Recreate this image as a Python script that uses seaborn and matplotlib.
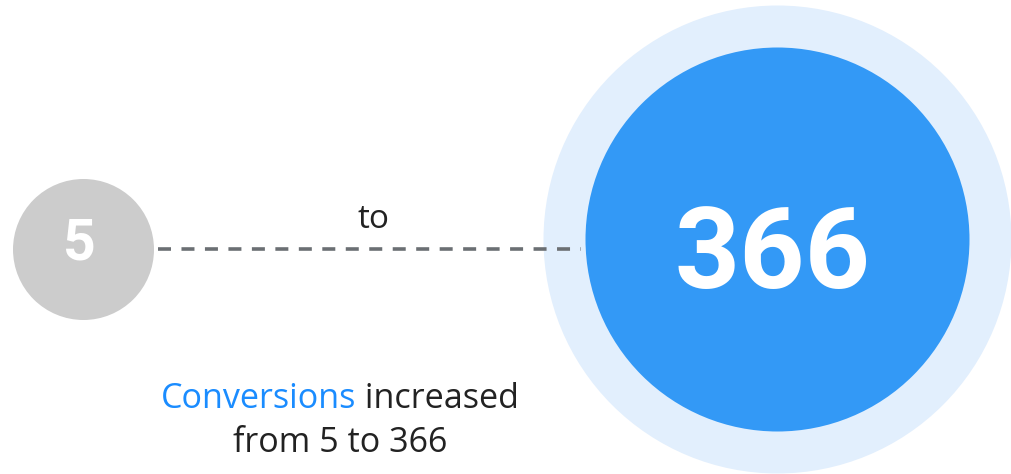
import matplotlib
matplotlib.use("Agg")
import matplotlib.pyplot as plt
import seaborn as sns
import pandas as pd

# values shown in the graphic
labels = ["before", "after"]
values = [5, 366]
metric = "Conversions"

# layout (pixel space)
W, H = 1011, 474
small_xy = (83, 249)
big_xy = (777, 239)
line_x = [158, 581]
line_y = [249, 249]

sns.set_theme(style="white")
plt.rcParams['font.family'] = ['Open Sans', 'DejaVu Sans']

fig = plt.figure(figsize=(W / 100, H / 100), dpi=100)
ax = fig.add_axes([0, 0, 1, 1])
ax.set_xlim(0, W)
ax.set_ylim(H, 0)
ax.axis("off")

def px_size(r):
    # marker area in pt^2 for a circle of radius r pixels
    d = 2 * r * 72 / 100
    return d * d

df_small = pd.DataFrame({"x": [small_xy[0]], "y": [small_xy[1]]})
df_big = pd.DataFrame({"x": [big_xy[0]], "y": [big_xy[1]]})

sns.scatterplot(data=df_big, x="x", y="y", s=px_size(234), color="#e2effd", linewidth=0, ax=ax, zorder=1)
sns.scatterplot(data=df_big, x="x", y="y", s=px_size(192), color="#3399f6", linewidth=0, ax=ax, zorder=2)
sns.scatterplot(data=df_small, x="x", y="y", s=px_size(70.5), color="#cccccc", linewidth=0, ax=ax, zorder=2)

# dashed connector
sns.lineplot(x=line_x, y=line_y, color="#6b6f73", linewidth=2.6, dashes=False, ax=ax, zorder=3)
ax.lines[-1].set_linestyle((0, (3.6, 2.9)))

ax.text(small_xy[0] - 4, 260, str(values[0]), color="white", fontsize=41, fontstyle="normal",
        fontweight="bold", family=["Roboto", "DejaVu Sans"], ha="center", va="baseline", zorder=4)
ax.text(big_xy[0] - 4, 288, str(values[1]), color="white", fontsize=82, fontstyle="normal",
        fontweight="bold", family=["Roboto", "DejaVu Sans"], ha="center", va="baseline", zorder=4)

ax.text(373, 228, "to", color="#222222", fontsize=24, ha="center", va="baseline", zorder=4)

# caption, first word in blue, centred as one line
fs = 24.6
t1 = ax.text(0, 408, metric, color="#1a8cff", fontsize=fs, ha="left", va="baseline")
t2 = ax.annotate(" increased", xy=(1, 0), xycoords=t1, color="#222222", fontsize=fs,
                 ha="left", va="bottom")
fig.canvas.draw()
r = fig.canvas.get_renderer()
w = t1.get_window_extent(r).width + t2.get_window_extent(r).width
t1.set_x(340 - w / 2)
ax.text(340, 452, f"from {values[0]} to {values[1]}", color="#222222", fontsize=fs,
        ha="center", va="baseline")

fig.savefig("out.png", dpi=100)
